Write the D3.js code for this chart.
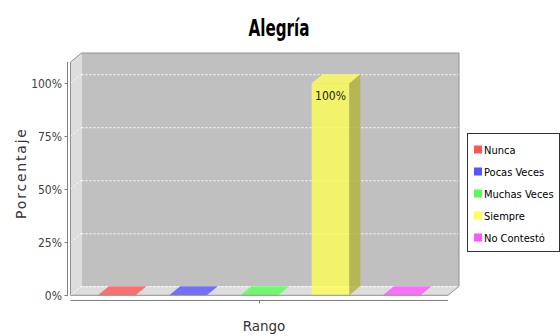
<!DOCTYPE html>
<html>
<head>
<meta charset="utf-8">
<script src="https://cdn.jsdelivr.net/npm/d3@7"></script>
<style>
  html, body { margin: 0; padding: 0; background: #ffffff; }
  svg { display: block; }
</style>
</head>
<body>
<svg id="chart" width="560" height="336"></svg>
<script>
// ---- data ----
const categories = ["Nunca", "Pocas Veces", "Muchas Veces", "Siempre", "No Contestó"];
const values = [0, 0, 0, 100, 0];
const seriesColors = ["#FF5555", "#5555FF", "#55FF55", "#FFFF55", "#FF55FF"];
const yTicks = [0, 25, 50, 75, 100];
const groupLabel = ["Rango"];
const titleText = "Alegría";
const xAxisTitle = "Rango";
const yAxisTitle = "Porcentaje";

// ---- layout ----
const W = 560, H = 336;
const dx = 11, dy = 9;
const front = { left: 70.5, right: 448, top: 62, bottom: 295.3 };
const svg = d3.select("#chart");

const y = d3.scaleLinear().domain([0, 110]).range([front.bottom, front.top]);
const x = d3.scaleBand().domain(categories).range([front.left, front.right])
  .paddingInner(0.472).paddingOuter(0.385);
const xGroup = d3.scaleBand().domain(groupLabel).range([front.left, front.right]);

const g = svg.append("g");

// back wall
g.append("rect")
  .attr("x", front.left + dx).attr("y", front.top - dy)
  .attr("width", front.right - front.left).attr("height", front.bottom - front.top)
  .attr("fill", "#C0C0C0");
// left wall
g.append("polygon")
  .attr("points", [[front.left, front.top], [front.left + dx, front.top - dy],
                   [front.left + dx, front.bottom - dy], [front.left, front.bottom]].join(" "))
  .attr("fill", "#DDDDDD");
// floor
g.append("polygon")
  .attr("points", [[front.left, front.bottom], [front.left + dx, front.bottom - dy],
                   [front.right + dx, front.bottom - dy], [front.right, front.bottom]].join(" "))
  .attr("fill", "#DDDDDD");

// gridlines
yTicks.forEach(t => {
  const yy = y(t) - dy;
  g.append("line")
    .attr("x1", front.left + dx).attr("x2", front.right + dx)
    .attr("y1", yy + 0.5).attr("y2", yy + 0.5)
    .attr("stroke", "#FFFFFF").attr("stroke-width", 1)
    .attr("stroke-dasharray", "2,2");
  g.append("line")
    .attr("x1", front.left).attr("y1", y(t))
    .attr("x2", front.left + dx).attr("y2", y(t) - dy)
    .attr("stroke", "#FFFFFF").attr("stroke-width", 1)
    .attr("stroke-dasharray", "2,2");
});

// bars
const alpha = 0.8;
categories.forEach((c, i) => {
  const v = values[i];
  const x0 = x(c), w = x.bandwidth();
  const yTop = y(v), y0 = y(0);
  const col = seriesColors[i];
  const dark = d3.color(col).darker(1).formatHex();
  if (v > 0) {
    g.append("rect")
      .attr("x", x0).attr("y", yTop).attr("width", w).attr("height", y0 - yTop)
      .attr("fill", col).attr("fill-opacity", alpha);
    g.append("polygon")
      .attr("points", [[x0 + w, yTop], [x0 + w + dx, yTop - dy], [x0 + w + dx, y0 - dy], [x0 + w, y0]].join(" "))
      .attr("fill", dark).attr("fill-opacity", alpha);
  }
  g.append("polygon")
    .attr("points", [[x0, yTop], [x0 + dx, yTop - dy], [x0 + w + dx, yTop - dy], [x0 + w, yTop]].join(" "))
    .attr("fill", col).attr("fill-opacity", alpha);
  if (v > 0) {
    g.append("text")
      .attr("x", x0 + w / 2).attr("y", yTop + 17)
      .attr("text-anchor", "middle")
      .attr("font-family", "DejaVu Sans Condensed, DejaVu Sans, sans-serif")
      .attr("font-size", 12).attr("fill", "#222")
      .text(v + "%");
  }
});

// outline
g.append("polygon")
  .attr("points", [[front.left, front.top], [front.left + dx, front.top - dy],
                   [front.right + dx, front.top - dy], [front.right + dx, front.bottom - dy],
                   [front.right, front.bottom], [front.left, front.bottom]].join(" "))
  .attr("fill", "none").attr("stroke", "#909090").attr("stroke-width", 1);

// y axis
const axisX = 67.5;
g.append("line")
  .attr("x1", axisX).attr("x2", axisX).attr("y1", front.top).attr("y2", front.bottom + 1)
  .attr("stroke", "#808080");
const yAxisG = g.append("g");
yTicks.forEach(t => {
  yAxisG.append("line")
    .attr("x1", axisX - 3).attr("x2", axisX).attr("y1", Math.round(y(t)) + 0.5).attr("y2", Math.round(y(t)) + 0.5)
    .attr("stroke", "#808080");
  yAxisG.append("text")
    .attr("x", 62).attr("y", y(t) + 4.5)
    .attr("text-anchor", "end")
    .attr("font-family", "DejaVu Sans Condensed, DejaVu Sans, sans-serif")
    .attr("font-size", 12).attr("fill", "#404040")
    .text(t + "%");
});

// x axis
const axisY = 300.5;
g.append("line")
  .attr("x1", front.left).attr("x2", front.right).attr("y1", axisY).attr("y2", axisY)
  .attr("stroke", "#808080");
groupLabel.forEach(lbl => {
  const cx = xGroup(lbl) + xGroup.bandwidth() / 2;
  g.append("line")
    .attr("x1", Math.round(cx) + 0.5).attr("x2", Math.round(cx) + 0.5)
    .attr("y1", axisY).attr("y2", axisY + 3)
    .attr("stroke", "#808080");
});

// axis titles
g.append("text")
  .attr("x", 264).attr("y", 331)
  .attr("text-anchor", "middle")
  .attr("font-family", "DejaVu Sans, sans-serif")
  .attr("font-size", 13.5).attr("fill", "#333333")
  .text(xAxisTitle);
g.append("text")
  .attr("transform", "translate(26,174) rotate(-90)")
  .attr("text-anchor", "middle")
  .attr("font-family", "DejaVu Sans, sans-serif")
  .attr("font-size", 14).attr("fill", "#333333")
  .attr("textLength", 90).attr("lengthAdjust", "spacing")
  .text(yAxisTitle);

// title
svg.append("text")
  .attr("x", 279).attr("y", 36)
  .attr("text-anchor", "middle")
  .attr("font-family", "DejaVu Sans Condensed, DejaVu Sans, sans-serif")
  .attr("font-weight", "bold")
  .attr("font-size", 23).attr("fill", "#000")
  .attr("textLength", 61).attr("lengthAdjust", "spacingAndGlyphs")
  .text(titleText);

// legend
const leg = svg.append("g");
leg.append("rect")
  .attr("x", 467.5).attr("y", 133.5).attr("width", 92).attr("height", 118)
  .attr("fill", "#FFFFFF").attr("stroke", "#333333");
categories.forEach((c, i) => {
  const cy = 149.5 + i * 22;
  leg.append("rect")
    .attr("x", 474).attr("y", cy - 4).attr("width", 8).attr("height", 8)
    .attr("fill", seriesColors[i]);
  leg.append("text")
    .attr("x", 484).attr("y", cy + 4)
    .attr("font-family", "DejaVu Sans Condensed, DejaVu Sans, sans-serif")
    .attr("font-size", 11).attr("fill", "#000")
    .text(c);
});
</script>
</body>
</html>
